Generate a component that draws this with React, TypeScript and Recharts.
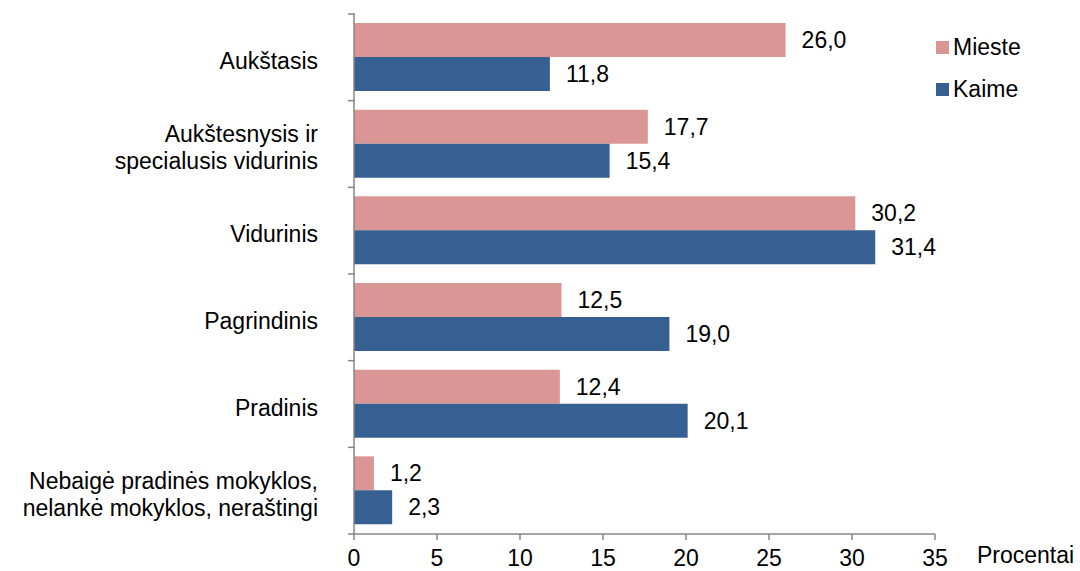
import { Bar, BarChart, LabelList, XAxis, YAxis } from "recharts";

const FONT = '"Liberation Sans", Arial, sans-serif';
const GRID = "#868686";

const categories = [
  "Aukštasis",
  "Aukštesnysis ir\nspecialusis vidurinis",
  "Vidurinis",
  "Pagrindinis",
  "Pradinis",
  "Nebaigė pradinės mokyklos,\nnelankė mokyklos, neraštingi",
];
const mieste = [26.0, 17.7, 30.2, 12.5, 12.4, 1.2];
const kaime = [11.8, 15.4, 31.4, 19.0, 20.1, 2.3];
const xTicks = [0, 5, 10, 15, 20, 25, 30, 35];

const series = [
  { key: "mieste", name: "Mieste", color: "#D99694" },
  { key: "kaime", name: "Kaime", color: "#376092" },
];

const data = categories.map((name, i) => ({
  name,
  mieste: mieste[i],
  kaime: kaime[i],
}));

const fmt = (v: any) => Number(v).toFixed(1).replace(".", ",");

const BAND = (534 - 14) / categories.length;

function CategoryTick(props: any) {
  const { x, y, payload, index, visibleTicksCount } = props;
  const lines = String(payload.value).split("\n");
  const lh = 27.5;
  const start = y + 3.5 - ((lines.length - 1) * lh) / 2;
  const lx = x + 30;
  return (
    <g>
      <line x1={lx} x2={lx + 7} y1={y - BAND / 2} y2={y - BAND / 2} stroke={GRID} strokeWidth={1.5} />
      {index === visibleTicksCount - 1 && (
        <line x1={lx} x2={lx + 7} y1={y + BAND / 2} y2={y + BAND / 2} stroke={GRID} strokeWidth={1.5} />
      )}
      <text textAnchor="end" fontSize={23} fontFamily={FONT} fill="#000">
        {lines.map((l, i) => (
          <tspan key={i} x={x} y={start + i * lh} dy="0.355em">
            {l}
          </tspan>
        ))}
      </text>
    </g>
  );
}

function LegendBox() {
  return (
    <div style={{ position: "absolute", left: 936, top: 26, fontFamily: FONT, fontSize: 23, color: "#000" }}>
      {series.map((s) => (
        <div key={s.key} style={{ display: "flex", alignItems: "center", height: 42 }}>
          <span style={{ width: 13, height: 13, background: s.color, marginRight: 4 }} />
          <span>{s.name}</span>
        </div>
      ))}
    </div>
  );
}

export default function App() {
  return (
    <div style={{ position: "absolute", left: 0, top: 0, width: 1080, height: 571, background: "#fff" }}>
      <BarChart
        width={1080}
        height={571}
        data={data}
        layout="vertical"
        margin={{ top: 14, right: 145, bottom: 0, left: 0 }}
        barSize={34}
        barGap={0}
      >
        <XAxis
          type="number"
          domain={[0, 35]}
          ticks={xTicks}
          height={37}
          stroke={GRID}
          strokeWidth={1.5}
          tickSize={6}
          tickMargin={10}
          tick={{ fill: "#000", fontSize: 23, fontFamily: FONT }}
          label={{
            value: "Procentai",
            position: "right",
            offset: 42,
            dy: 2,
            fill: "#000",
            fontSize: 23,
            fontFamily: FONT,
          }}
        />
        <YAxis
          type="category"
          dataKey="name"
          width={354}
          stroke={GRID}
          strokeWidth={1.5}
          tickLine={false}
          tickSize={6}
          tickMargin={30}
          tick={<CategoryTick />}
          interval={0}
        />
        {series.map((s) => (
          <Bar key={s.key} dataKey={s.key} name={s.name} fill={s.color} isAnimationActive={false}>
            <LabelList
              dataKey={s.key}
              position="right"
              offset={16}
              formatter={fmt}
              fill="#000"
              fontSize={23}
              fontFamily={FONT}
            />
          </Bar>
        ))}
      </BarChart>
      <LegendBox />
    </div>
  );
}
